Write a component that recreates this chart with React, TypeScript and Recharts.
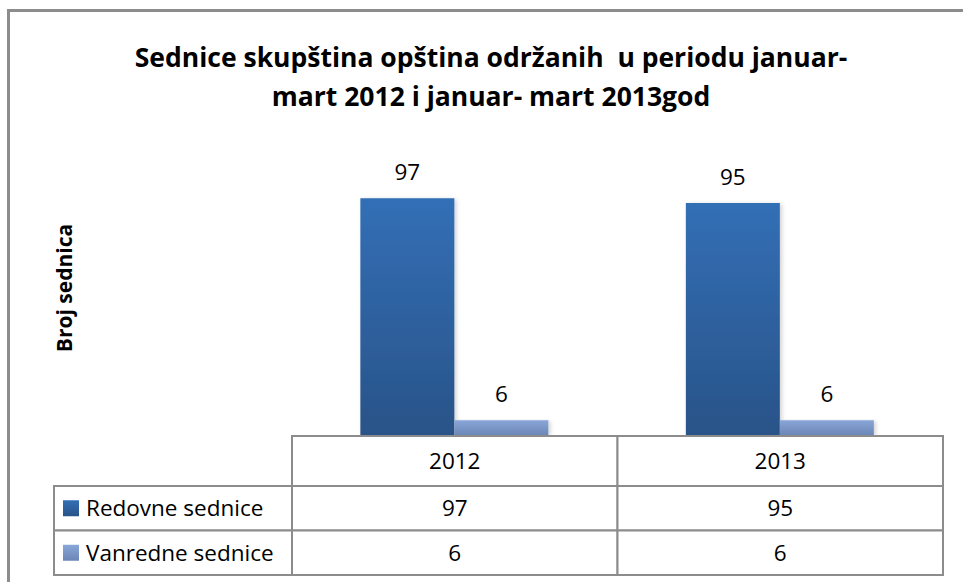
import React from 'react';
import { BarChart, Bar, XAxis, YAxis, LabelList, Customized } from 'recharts';

const categories = ['2012', '2013'];
const redovne = [97, 95];
const vanredne = [6, 6];
const seriesNames = ['Redovne sednice', 'Vanredne sednice'];
const seriesValues = [redovne, vanredne];
const titleLines = ['Sednice skupština opština održanih  u periodu januar-', 'mart 2012 i januar- mart 2013god'];
const yLabel = 'Broj sednica';

const data = categories.map((c, i) => ({ year: c, redovne: redovne[i], vanredne: vanredne[i] }));

const W = 963;
const H = 582;
const FONT = '"Open Sans", sans-serif';
const LINE = '#8c8c8c';
const M = { top: 142, right: 20, bottom: 0, left: 292 };
const AXIS_H = 147;
const HEADER_H = 50;
const ROW_H = 44.5;
const TABLE_LEFT = 54;
const FS = 22.5;
const LEGEND_COLORS = ['url(#gradRed)', 'url(#gradVan)'];

const TableTick = (props: any) => {
  const { x, y, payload } = props;
  const half = payload && payload.offset > 0 ? payload.offset : (W - M.left - M.right) / categories.length / 2;
  const idx = categories.indexOf(String(payload.value));
  const x0 = x - half;
  const x1 = x + half;
  const top = y + 1;
  return (
    <g>
      <rect x={x0} y={top} width={x1 - x0} height={HEADER_H} fill="#fff" stroke={LINE} strokeWidth={2} />
      <text x={x} y={top + HEADER_H / 2 + 8} textAnchor="middle" fontFamily={FONT} fontSize={FS} fill="#000">
        {payload.value}
      </text>
      {seriesValues.map((vals, r) => {
        const ry = top + HEADER_H + r * ROW_H;
        return (
          <g key={r}>
            <rect x={x0} y={ry} width={x1 - x0} height={ROW_H} fill="#fff" stroke={LINE} strokeWidth={2} />
            <text x={x} y={ry + ROW_H / 2 + 8} textAnchor="middle" fontFamily={FONT} fontSize={FS} fill="#000">
              {vals[idx]}
            </text>
          </g>
        );
      })}
    </g>
  );
};

const Decor = () => {
  const top = H - AXIS_H + 1 + HEADER_H;
  return (
    <g>
      <rect x={8.5} y={10.5} width={W + 20} height={H + 20} fill="none" stroke={LINE} strokeWidth={3} />
      {titleLines.map((t, i) => (
        <text key={i} x={491} y={67 + i * 39} textAnchor="middle" fontFamily={FONT} fontWeight="bold" fontSize={26.5} fill="#000" style={{ whiteSpace: 'pre' }}>
          {t}
        </text>
      ))}
      <text x={72} y={288} transform="rotate(-90 72 288)" textAnchor="middle" fontFamily={FONT} fontWeight="bold" fontSize={21} fill="#000">
        {yLabel}
      </text>
      {seriesNames.map((n, r) => {
        const ry = top + r * ROW_H;
        return (
          <g key={n}>
            <rect x={TABLE_LEFT} y={ry} width={M.left - TABLE_LEFT} height={ROW_H} fill="#fff" stroke={LINE} strokeWidth={2} />
            <rect x={63} y={ry + ROW_H / 2 - 8} width={16} height={16} fill={LEGEND_COLORS[r]} />
            <text x={86} y={ry + ROW_H / 2 + 8} fontFamily={FONT} fontSize={FS} fill="#000">
              {n}
            </text>
          </g>
        );
      })}
    </g>
  );
};

export default function App() {
  return (
    <div style={{ position: 'absolute', left: 0, top: 0, width: W, height: H, background: '#fff' }}>
      <BarChart width={W} height={H} data={data} margin={M} barCategoryGap="21%" barGap={0}>
        <defs>
          <linearGradient id="gradRed" x1="0" y1="0" x2="0" y2="1">
            <stop offset="0%" stopColor="#326fb6" />
            <stop offset="100%" stopColor="#2a5388" />
          </linearGradient>
          <linearGradient id="gradVan" x1="0" y1="0" x2="0" y2="1">
            <stop offset="0%" stopColor="#88a6d8" />
            <stop offset="100%" stopColor="#6c87b6" />
          </linearGradient>
          <filter id="shadow" x="-20%" y="-5%" width="140%" height="110%">
            <feDropShadow dx="2" dy="1" stdDeviation="2" floodColor="#000" floodOpacity="0.18" />
          </filter>
        </defs>
        <Customized component={<Decor />} />
        <XAxis
          dataKey="year"
          axisLine={false}
          tickLine={false}
          tickSize={0}
          tickMargin={0}
          height={AXIS_H}
          interval={0}
          tick={<TableTick />}
        />
        <YAxis hide domain={[0, 120]} />
        <Bar dataKey="redovne" name={seriesNames[0]} fill="url(#gradRed)" filter="url(#shadow)" isAnimationActive={false}>
          <LabelList dataKey="redovne" position="top" offset={18} fontFamily={FONT} fontSize={FS} fill="#000" />
        </Bar>
        <Bar dataKey="vanredne" name={seriesNames[1]} fill="url(#gradVan)" filter="url(#shadow)" isAnimationActive={false}>
          <LabelList dataKey="vanredne" position="top" offset={18} fontFamily={FONT} fontSize={FS} fill="#000" />
        </Bar>
      </BarChart>
    </div>
  );
}
